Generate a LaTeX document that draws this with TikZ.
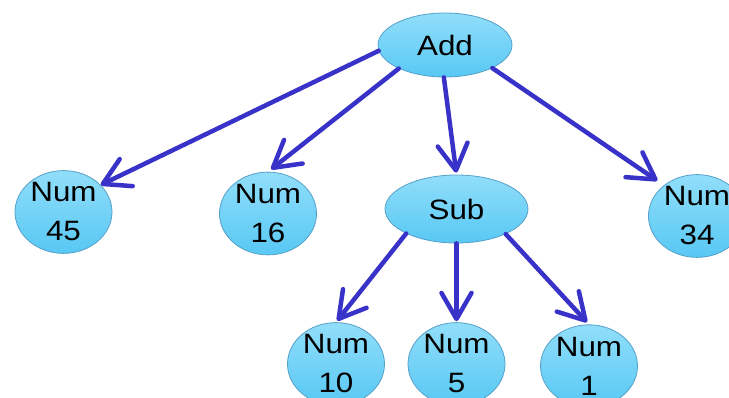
\documentclass[tikz,border=0pt]{standalone}
\usepackage{fontspec}
\setmainfont{Liberation Sans}
\newfontfamily\ballfont[FakeStretch=1.12]{Liberation Sans}
\usetikzlibrary{shapes.geometric,arrows.meta}

\definecolor{edgeblue}{RGB}{56,50,200}
\definecolor{balltop}{RGB}{145,222,250}
\definecolor{ballbot}{RGB}{88,200,244}
\definecolor{ballrim}{RGB}{85,160,200}

\tikzset{
  ball/.style={ellipse, inner sep=0pt, top color=balltop, bottom color=ballbot,
    draw=ballrim, line width=0.8pt, align=center,
    font=\ballfont\fontsize{28pt}{39pt}\selectfont},
  numball/.style={ball, minimum width=97pt, minimum height=74pt},
  opball/.style={ball, minimum width=134pt, minimum height=64pt},
  link/.style={draw=edgeblue, line width=4.5pt, line cap=round, line join=round,
    -{Straight Barb[length=26pt, width=30pt, round]}}
}

\begin{document}
\begin{tikzpicture}[x=1pt, y=-1pt]
  \useasboundingbox (0,0) rectangle (729,398);

  % operator nodes
  \node[opball] (add) at (445,45) {Add};
  \node[opball, minimum width=143pt, minimum height=68pt] (sub) at (456.5,209) {Sub};

  % number leaves
  \node[numball] (n45) at (63.5,212) {Num\\45};
  \node[numball] (n16) at (268,213.5) {Num\\16};
  \node[numball, minimum height=68pt] (n34) at (697,216) {Num\\34};
  \node[numball] (n10) at (336,364) {Num\\10};
  \node[numball] (n5) at (456.5,364) {Num\\5};
  \node[numball] (n1) at (589,366) {Num\\1};

  % tree edges
  \draw[link] (add.185) -- (n45.36);
  \draw[link, shorten >=4pt] (add.207) -- (n16.north);
  \draw[link, shorten >=2pt] (add.268) -- (sub.north);
  \draw[link, shorten >=8pt] (add.334) -- (n34.137);
  \draw[link, shorten >=2pt] (sub.206) -- (n10.north);
  \draw[link, shorten >=1pt] (sub.south) -- (n5.north);
  \draw[link, shorten >=3pt] (sub.333) -- (n1.north);
\end{tikzpicture}
\end{document}
